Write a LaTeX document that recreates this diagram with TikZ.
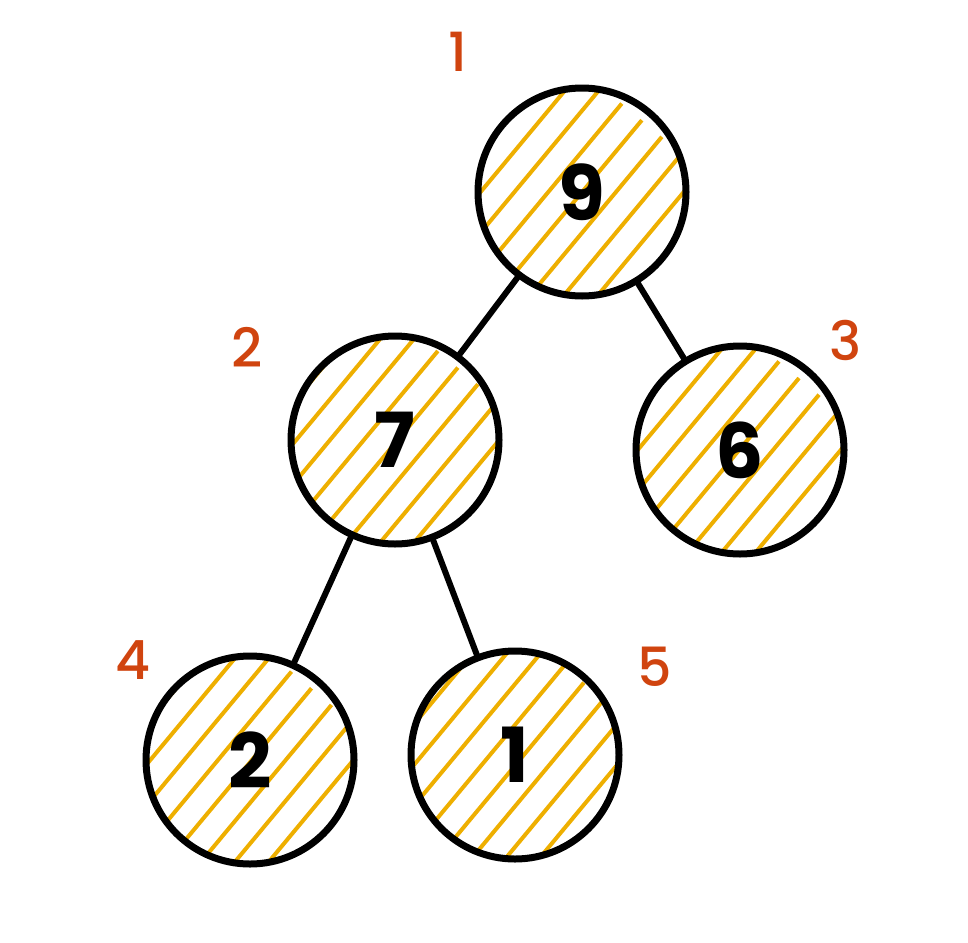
\documentclass[tikz,border=0pt]{standalone}
\usepackage{fontspec}
\setmainfont{Poppins}
\newfontfamily\medfont{Poppins Medium}
\definecolor{hatchcol}{HTML}{EEAF00}
\definecolor{labcol}{HTML}{D0440F}
\begin{document}
\begin{tikzpicture}[x=0.5pt,y=-0.5pt,
  heapnode/.style={circle, draw=black, line width=3.5pt, minimum size=104pt, inner sep=0pt,
    font=\fontsize{38}{38}\selectfont\bfseries,
    path picture={
      \begin{scope}[shift={(path picture bounding box.center)}]
        \foreach \k in {-4,...,4}{
          \draw[hatchcol, line width=2pt]
            ({0.77*26*\k - 0.64*130},{0.64*26*\k + 0.77*130}) --
            ({0.77*26*\k + 0.64*130},{0.64*26*\k - 0.77*130});
        }
      \end{scope}}},
  idxlabel/.style={text=labcol, font=\fontsize{27}{27}\selectfont\medfont},
  edge/.style={draw=black, line width=3pt, line cap=round}]
\useasboundingbox (0,0) rectangle (968,942);

\node[heapnode] (n9) at (582,192) {9};
\node[heapnode] (n7) at (395,440) {7};
\node[heapnode] (n6) at (740,450) {6};
\node[heapnode] (n2) at (250,760) {2};
\node[heapnode] (n1) at (515,755) {1};

\draw[edge] (n9) -- (n7);
\draw[edge] (n9) -- (n6);
\draw[edge] (n7) -- (n2);
\draw[edge] (n7) -- (n1);

\node[idxlabel] (l1) at (458,52) {1};
\node[idxlabel] (l2) at (247,347) {2};
\node[idxlabel] (l3) at (846,340) {3};
\node[idxlabel] (l4) at (133,660) {4};
\node[idxlabel] (l5) at (655,667) {5};
\end{tikzpicture}
\end{document}
